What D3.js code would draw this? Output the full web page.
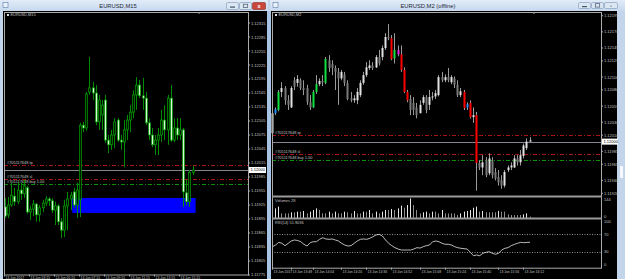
<!DOCTYPE html>
<html><head><meta charset="utf-8">
<script src="https://cdn.jsdelivr.net/npm/d3@7"></script>
<style>body{margin:0;background:#c3d5ea;overflow:hidden}svg{display:block}text{font-family:"Liberation Sans",Arial,sans-serif}</style>
</head><body><svg id="c" width="625" height="279"></svg>
<script>
// ---------------- LEFT CHART DATA (EURUSD,M15) ----------------
const leftOpen =[1.11921,1.11904,1.11925,1.11944,1.11932,1.11957,1.11949,1.11962,1.11910,1.11916,1.11927,1.11904,1.11919,1.11929,1.11938,1.11934,1.11914,1.11923,1.11889,1.11871,1.11923,1.11938,1.11953,1.11925,1.11936,1.12096,1.12090,1.12167,1.12176,1.12165,1.12103,1.12118,1.12150,1.12064,1.12054,1.12075,1.12107,1.12064,1.12060,1.12086,1.12107,1.12124,1.12161,1.12182,1.12159,1.12154,1.12101,1.12075,1.12054,1.12064,1.12075,1.12107,1.12086,1.12154,1.12064,1.12090,1.12075,1.12086,1.11951,1.11932,1.11995];
const leftHigh =[1.11940,1.11942,1.11973,1.11962,1.11973,1.11973,1.11979,1.11966,1.11923,1.11936,1.11929,1.11925,1.11936,1.11944,1.11942,1.11940,1.11932,1.11927,1.11897,1.11936,1.11953,1.11953,1.11962,1.11973,1.12101,1.12103,1.12167,1.12242,1.12189,1.12182,1.12161,1.12150,1.12161,1.12075,1.12086,1.12111,1.12111,1.12075,1.12107,1.12118,1.12139,1.12171,1.12199,1.12193,1.12197,1.12167,1.12111,1.12090,1.12075,1.12090,1.12129,1.12139,1.12161,1.12182,1.12111,1.12111,1.12111,1.12090,1.11979,1.12000,1.12009];
const leftLow  =[1.11897,1.11897,1.11921,1.11923,1.11927,1.11936,1.11940,1.11906,1.11893,1.11901,1.11889,1.11889,1.11910,1.11923,1.11923,1.11908,1.11882,1.11882,1.11854,1.11856,1.11871,1.11914,1.11919,1.11897,1.11899,1.12081,1.12084,1.12161,1.12150,1.12096,1.12086,1.12086,1.12058,1.12036,1.12043,1.12047,1.12060,1.12043,1.12006,1.12064,1.12081,1.12111,1.12129,1.12154,1.12129,1.12096,1.12064,1.12049,1.12032,1.12032,1.12060,1.12064,1.12054,1.12060,1.12060,1.12064,1.12064,1.11921,1.11925,1.11921,1.11989];
const leftClose=[1.11901,1.11925,1.11946,1.11932,1.11957,1.11949,1.11966,1.11910,1.11916,1.11927,1.11904,1.11919,1.11929,1.11938,1.11934,1.11914,1.11923,1.11889,1.11871,1.11923,1.11938,1.11946,1.11925,1.11957,1.12096,1.12090,1.12163,1.12176,1.12165,1.12103,1.12150,1.12139,1.12064,1.12054,1.12075,1.12103,1.12064,1.12060,1.12086,1.12107,1.12124,1.12161,1.12182,1.12159,1.12154,1.12101,1.12075,1.12054,1.12064,1.12075,1.12107,1.12086,1.12154,1.12064,1.12090,1.12075,1.12086,1.11953,1.11932,1.11995,1.12000];
const leftTicks=[1.12315,1.12285,1.12255,1.12225,1.12195,1.12165,1.12135,1.12105,1.12075,1.12045,1.12015,1.11985,1.11955,1.11925,1.11895,1.11865,1.11835,1.11805,1.11775];
const leftTimeLabels=["13 Jun 2017","13 Jun 03:15","13 Jun 05:15","13 Jun 07:15","13 Jun 09:15","13 Jun 11:15","13 Jun 13:15","13 Jun 15:15"];
const leftTimeIdx=[0,8,16,24,32,40,48,56];
const leftZone={from:21.5,to:61,top:1.11940,bottom:1.11908};

// ---------------- RIGHT CHART DATA (EURUSD,M2 offline) ----------------
const rightOpen =[1.12013,1.12044,1.12049,1.12077,1.12083,1.12064,1.12053,1.12095,1.12091,1.12095,1.12083,1.12083,1.12061,1.12053,1.12077,1.12089,1.12094,1.12091,1.12126,1.12120,1.12114,1.12108,1.12098,1.12104,1.12091,1.12067,1.12064,1.12064,1.12072,1.12091,1.12103,1.12114,1.12118,1.12115,1.12131,1.12131,1.12145,1.12162,1.12160,1.12129,1.12142,1.12135,1.12111,1.12077,1.12066,1.12060,1.12053,1.12044,1.12060,1.12069,1.12057,1.12069,1.12070,1.12072,1.12100,1.12095,1.12100,1.12092,1.12098,1.12088,1.12072,1.12077,1.12053,1.12060,1.12038,1.12041,1.11967,1.11960,1.11971,1.11951,1.11971,1.11953,1.11945,1.11940,1.11932,1.11956,1.11960,1.11960,1.11974,1.11968,1.11978,1.11990,1.12000];
const rightHigh =[1.12046,1.12053,1.12080,1.12092,1.12086,1.12072,1.12086,1.12100,1.12103,1.12098,1.12095,1.12088,1.12072,1.12080,1.12103,1.12098,1.12103,1.12131,1.12134,1.12126,1.12118,1.12114,1.12111,1.12108,1.12095,1.12077,1.12072,1.12083,1.12095,1.12108,1.12123,1.12126,1.12123,1.12134,1.12142,1.12149,1.12168,1.12182,1.12165,1.12168,1.12149,1.12149,1.12115,1.12080,1.12072,1.12069,1.12060,1.12064,1.12072,1.12072,1.12080,1.12077,1.12080,1.12103,1.12108,1.12104,1.12114,1.12103,1.12101,1.12095,1.12083,1.12080,1.12061,1.12064,1.12053,1.12046,1.11971,1.11979,1.11976,1.11982,1.11976,1.11959,1.11956,1.11948,1.11956,1.11963,1.11968,1.11979,1.11979,1.11987,1.11997,1.12005,1.12007];
const rightLow  =[1.12010,1.12041,1.12047,1.12069,1.12057,1.12049,1.12052,1.12080,1.12085,1.12080,1.12072,1.12057,1.12049,1.12052,1.12074,1.12086,1.12086,1.12089,1.12108,1.12103,1.12080,1.12057,1.12095,1.12086,1.12064,1.12061,1.12060,1.12058,1.12069,1.12088,1.12100,1.12111,1.12111,1.12114,1.12118,1.12126,1.12142,1.12157,1.12126,1.12121,1.12132,1.12108,1.12075,1.12061,1.12041,1.12041,1.12036,1.12044,1.12057,1.12044,1.12049,1.12064,1.12066,1.12070,1.12092,1.12092,1.12092,1.12089,1.12083,1.12069,1.12069,1.12049,1.12049,1.12036,1.12029,1.11924,1.11956,1.11948,1.11945,1.11948,1.11943,1.11940,1.11932,1.11927,1.11929,1.11953,1.11956,1.11959,1.11963,1.11963,1.11974,1.11987,1.12000];
const rightClose=[1.12044,1.12050,1.12077,1.12083,1.12064,1.12057,1.12083,1.12085,1.12097,1.12083,1.12080,1.12061,1.12053,1.12077,1.12089,1.12094,1.12092,1.12128,1.12114,1.12114,1.12108,1.12098,1.12108,1.12091,1.12066,1.12064,1.12067,1.12077,1.12091,1.12103,1.12115,1.12118,1.12114,1.12131,1.12121,1.12145,1.12162,1.12160,1.12128,1.12142,1.12135,1.12111,1.12077,1.12064,1.12049,1.12049,1.12041,1.12057,1.12069,1.12049,1.12069,1.12070,1.12075,1.12100,1.12095,1.12100,1.12095,1.12100,1.12088,1.12072,1.12078,1.12052,1.12058,1.12038,1.12041,1.11967,1.11960,1.11968,1.11948,1.11974,1.11948,1.11943,1.11937,1.11932,1.11953,1.11960,1.11963,1.11974,1.11968,1.11979,1.11994,1.12000,1.12002];
// signal colouring of the custom candles: 0 none, 1 up(lime), 2 down(red), 3 blue, 4 magenta
const rightSignal=[0,3,1,0,0,0,0,0,0,0,0,0,0,1,1,0,0,1,0,0,0,0,0,0,0,0,0,0,0,0,0,0,0,0,0,0,0,0,2,1,4,2,2,2,0,0,0,0,0,0,0,0,0,0,0,0,0,0,0,0,0,2,3,2,0,2,0,0,0,0,0,0,0,0,0,0,0,0,0,0,0,0,0];
const rightVolume=[52,71,84,34,34,34,42,42,47,47,52,34,47,59,71,59,34,34,47,34,47,34,34,47,42,34,52,34,34,47,47,59,34,47,34,47,59,59,66,59,71,91,76,96,144,96,59,34,42,47,34,47,47,34,59,34,34,34,34,22,34,47,52,59,76,84,47,52,42,42,42,42,52,47,47,27,22,22,22,22,27,34,10];
const rightRSI=[41.7,45.6,51.8,49.5,44,49.5,54.9,57.2,56,53.2,47.2,43.3,50.9,53.2,53.2,58.8,62.5,59.5,58.8,59.5,57.2,54.9,49.5,45.6,43.3,44,49.5,54.9,58.8,59.5,58.8,61.1,64.8,68.8,70.4,66.4,57.2,49.5,44,39.4,36.3,34,34,34,34,36.3,39.4,38.5,41.7,44,45.6,53.2,54.9,53.2,49.5,47.2,47.2,45.6,41.7,39.4,38,37,36.3,28.7,20.8,22.5,20.8,26.4,28.7,30.1,26.4,24.1,26.4,34,38,39.4,44,47,49.5,51.8,51,51.5,52];
const rightTicks=[1.12195,1.12170,1.12145,1.12125,1.12100,1.12080,1.12055,1.12030,1.12010,1.11985,1.11965,1.11940,1.11920];
const rightTimeLabels=["13 Jun 2017","13 Jun 13:48","13 Jun 14:04","13 Jun 14:20","13 Jun 14:36","13 Jun 14:52","13 Jun 15:08","13 Jun 15:24","13 Jun 15:40","13 Jun 15:56","13 Jun 16:12"];
const rightTimeIdx=[0,6,13,22,30,38,47,55,63,72,80];
const volTicks=[144,0];
const rsiTicks=[100,70,30,0];
const rsiLevels=[70,30];

// trade lines (same on both charts)
const orderLabels=["#705117648 tp","#705117648 sl","#705117648 buy 1.00"];
const orderPrices=[1.12011,1.11981,1.11971];
const orderKinds=["tp","sl","buy"];
const bidPrice=1.12000;

// ---------------- DRAWING ----------------
const svg=d3.select("#c");
const fmt=d3.format(".5f");
const TXT="#c4c4c4";

svg.append("rect").attr("x",0).attr("y",0).attr("width",625).attr("height",279).attr("fill","#c3d5ea");
const defs=svg.append("defs");
function titleBar(x0,x1,title,cx,buttons,close){
  const g=svg.append("g");
  const grad=defs.append("linearGradient").attr("id","tb"+x0).attr("x1",0).attr("y1",0).attr("x2",0).attr("y2",1);
  grad.append("stop").attr("offset",0).attr("stop-color","#e2ecf8");
  grad.append("stop").attr("offset",1).attr("stop-color","#c6d8ee");
  g.append("rect").attr("x",x0).attr("y",0).attr("width",x1-x0).attr("height",11).attr("fill","url(#tb"+x0+")");
  g.append("text").attr("x",cx).attr("y",8).attr("text-anchor","middle").attr("font-size",5.8).attr("fill","#1b2636").text(title);
  g.append("rect").attr("x",x0+3).attr("y",2.5).attr("width",5).attr("height",5).attr("fill","#e9f1fa").attr("stroke","#5b7ea6").attr("stroke-width",0.6);
  buttons.forEach((b,k)=>{
    const red=close&&k===2;
    g.append("rect").attr("x",b[0]+0.5).attr("y",b[2]+0.5).attr("width",b[1]-b[0]).attr("height",b[3]-b[2]).attr("rx",1.2)
      .attr("fill",red?"#c9473b":"#dbe6f3").attr("stroke",red?"#8a2b22":"#7d95b3").attr("stroke-width",0.6);
    const mx=(b[0]+b[1])/2+0.5,my=(b[2]+b[3])/2+0.5;
    if(k===0) g.append("rect").attr("x",mx-2.5).attr("y",my+0.5).attr("width",5).attr("height",1.2).attr("fill","#44556b");
    if(k===1) g.append("rect").attr("x",mx-2.2).attr("y",my-1.8).attr("width",4.4).attr("height",3.4).attr("fill","none").attr("stroke","#44556b").attr("stroke-width",0.7);
    if(k===2) g.append("text").attr("x",mx).attr("y",my+2).attr("text-anchor","middle").attr("font-size",5.5).attr("font-weight","bold").attr("fill",red?"#fff":"#44556b").text(red?"x":"▫");
  });
}
titleBar(0,268,"EURUSD,M15",118,[[226,238,2,9],[239,251,2,9],[252,265,2,9]],true);
titleBar(270,625,"EURUSD,M2 (offline)",428,[[578,590,2,8],[591,603,2,8],[604,617,2,8]],false);

function candles(g,n,x,y,o,h,l,c,style){
  for(let i=0;i<n;i++){
    const xi=Math.round(x(i));
    const s=style(i,c[i]>=o[i]);
    g.append("line").attr("x1",xi+0.5).attr("x2",xi+0.5).attr("y1",y(h[i])).attr("y2",y(l[i])).attr("stroke",s.wick).attr("stroke-width",1);
    const top=Math.min(y(o[i]),y(c[i])),bot=Math.max(y(o[i]),y(c[i]));
    g.append("rect").attr("x",xi-0.5).attr("y",top).attr("width",2).attr("height",Math.max(1,bot-top))
      .attr("fill",s.fill).attr("stroke",s.stroke||"none").attr("stroke-width",s.stroke?0.7:0);
  }
}
function dashLine(g,x0,x1,yy,color){
  g.append("line").attr("x1",x0).attr("x2",x1).attr("y1",yy+0.5).attr("y2",yy+0.5).attr("stroke",color).attr("stroke-width",1).attr("stroke-dasharray","4,2,1,2");
}
const lineColor={tp:"#a81515",sl:"#a81515",buy:"#0d8f0d"};

// ===== LEFT CHART =====
{
  const L={x0:4,x1:248,y0:12,y1:274.5};
  const g=svg.append("g");
  g.append("rect").attr("x",3).attr("y",11).attr("width",264).attr("height",268).attr("fill","#000");
  const y=d3.scaleLinear().domain([1.11776,1.12225]).range([L.y1,65]);
  const x=d3.scaleLinear().domain([0,leftOpen.length-1]).range([5,192.5]);
  g.append("rect").attr("x",x(leftZone.from)).attr("y",y(leftZone.top)).attr("width",x(leftZone.to)-x(leftZone.from)).attr("height",y(leftZone.bottom)-y(leftZone.top)).attr("fill","#0000ff");
  orderPrices.forEach((p,k)=>{
    dashLine(g,L.x0,L.x1,Math.round(y(p)),lineColor[orderKinds[k]]);
    g.append("text").attr("x",7).attr("y",Math.round(y(p))-0.6).attr("font-size",3.9).attr("fill",TXT).text(orderLabels[k]);
  });
  g.append("line").attr("x1",L.x0).attr("x2",L.x1).attr("y1",Math.round(y(bidPrice))+0.5).attr("y2",Math.round(y(bidPrice))+0.5).attr("stroke","#85858f");
  candles(g,leftOpen.length,x,y,leftOpen,leftHigh,leftLow,leftClose,(i,up)=>up?{wick:"#008c00",fill:"#001a00",stroke:"#00a000"}:{wick:"#008c00",fill:"#d4f7d4",stroke:"#009a00"});
  g.append("rect").attr("x",L.x0+0.5).attr("y",L.y0+0.5).attr("width",L.x1-L.x0).attr("height",L.y1-L.y0).attr("fill","none").attr("stroke","#aaaaaa").attr("stroke-width",1);
  const ax=g.append("g");
  leftTicks.forEach(t=>{
    const yy=y(t);
    ax.append("line").attr("x1",L.x1).attr("x2",L.x1+2).attr("y1",yy).attr("y2",yy).attr("stroke","#aaaaaa");
    ax.append("text").attr("x",L.x1+3).attr("y",yy+1.5).attr("font-size",4).attr("fill",TXT).text(fmt(t));
  });
  const by=y(bidPrice);
  ax.append("rect").attr("x",L.x1+1).attr("y",by-3).attr("width",17).attr("height",6).attr("fill","#fff");
  ax.append("text").attr("x",L.x1+2.5).attr("y",by+1.5).attr("font-size",4).attr("fill","#000").text(fmt(bidPrice));
  leftTimeIdx.forEach((ix,k)=>{
    const xx=Math.round(x(ix))-1;
    ax.append("line").attr("x1",xx+0.5).attr("x2",xx+0.5).attr("y1",L.y1).attr("y2",L.y1+2).attr("stroke","#aaaaaa");
    ax.append("text").attr("x",xx+1.5).attr("y",278.6).attr("font-size",3.4).attr("fill",TXT).text(leftTimeLabels[k]);
  });
  g.append("rect").attr("x",7).attr("y",14).attr("width",2).attr("height",2).attr("fill","#ddd");
  g.append("text").attr("x",10.5).attr("y",16.4).attr("font-size",3.9).attr("fill",TXT).text("EURUSD,M15");
  g.append("path").attr("d","M197,12 L201,12 L199,14 Z").attr("fill","#aaaaaa");
}

// ===== RIGHT CHART =====
{
  const R={x0:272,x1:601,y0:12,main1:196.5,vol1:218.5,y1:267.7};
  const g=svg.append("g");
  g.append("rect").attr("x",271).attr("y",11).attr("width",346).attr("height",268).attr("fill","#000");
  g.append("rect").attr("x",267).attr("y",11).attr("width",4).attr("height",268).attr("fill","#a7c4e4");
  g.append("rect").attr("x",617).attr("y",11).attr("width",8).attr("height",268).attr("fill","#c3d5ea");
  g.append("rect").attr("x",620).attr("y",166).attr("width",3).attr("height",12).attr("fill","#f4f8fc");
  const y=d3.scaleLinear().domain([1.11920,1.12195]).range([193.3,15.7]);
  const x=d3.scaleLinear().domain([0,rightOpen.length-1]).range([272,529.5]);
  const vy=d3.scaleLinear().domain([0,144]).range([R.vol1-0.5,198.5]);
  const ry=d3.scaleLinear().domain([0,100]).range([264.7,221.5]);
  orderPrices.forEach((p,k)=>{
    dashLine(g,R.x0,R.x1,Math.round(y(p)),lineColor[orderKinds[k]]);
    g.append("text").attr("x",275).attr("y",Math.round(y(p))-0.6).attr("font-size",3.9).attr("fill",TXT).text(orderLabels[k]);
  });
  g.append("line").attr("x1",R.x0).attr("x2",R.x1).attr("y1",Math.round(y(bidPrice))+0.5).attr("y2",Math.round(y(bidPrice))+0.5).attr("stroke","#85858f");
  const sigCol=["","#10e040","#ff0000","#1e8fff","#e020e0"];
  candles(g,rightOpen.length,x,y,rightOpen,rightHigh,rightLow,rightClose,(i,up)=>{
    const s=rightSignal[i];
    if(s) return {wick:"#9a9a9a",fill:sigCol[s]};
    return up?{wick:"#9a9a9a",fill:"#e2e2e2"}:{wick:"#9a9a9a",fill:"#7a7a7a"};
  });
  rightVolume.forEach((v,i)=>{
    const xi=Math.round(x(i))+0.5;
    g.append("line").attr("x1",xi).attr("x2",xi).attr("y1",vy(0)).attr("y2",vy(v)).attr("stroke",i>0&&v>rightVolume[i-1]?"#e6e6e6":"#8c8c8c");
  });
  rsiLevels.forEach(v=>g.append("line").attr("x1",R.x0).attr("x2",R.x1).attr("y1",Math.round(ry(v))+0.5).attr("y2",Math.round(ry(v))+0.5).attr("stroke","#909090").attr("stroke-dasharray","1,1.5"));
  g.append("path").datum(rightRSI).attr("d",d3.line().x((d,i)=>x(i)+0.5).y(d=>ry(d))).attr("fill","none").attr("stroke","#e8e8e8").attr("stroke-width",0.8);
  g.append("rect").attr("x",R.x0+0.5).attr("y",R.y0+0.5).attr("width",R.x1-R.x0).attr("height",R.y1-R.y0).attr("fill","none").attr("stroke","#aaaaaa");
  [R.main1,R.vol1].forEach(yy=>g.append("rect").attr("x",R.x0).attr("y",yy-1).attr("width",R.x1-R.x0+1).attr("height",2).attr("fill","#9a9a9a"));
  const ax=g.append("g");
  rightTicks.forEach(t=>{
    const yy=y(t);
    ax.append("line").attr("x1",R.x1).attr("x2",R.x1+2).attr("y1",yy).attr("y2",yy).attr("stroke","#aaaaaa");
    ax.append("text").attr("x",R.x1+3).attr("y",yy+1.5).attr("font-size",4).attr("fill",TXT).text(fmt(t));
  });
  const by=y(bidPrice);
  ax.append("rect").attr("x",R.x1+1).attr("y",by-3).attr("width",16).attr("height",6).attr("fill","#fff");
  ax.append("text").attr("x",R.x1+2.5).attr("y",by+1.5).attr("font-size",4).attr("fill","#000").text(fmt(bidPrice));
  volTicks.forEach(t=>ax.append("text").attr("x",R.x1+3).attr("y",vy(t)+(t?2.5:-0.5)).attr("font-size",4).attr("fill",TXT).text(t));
  rsiTicks.forEach(t=>ax.append("text").attr("x",R.x1+3).attr("y",ry(t)+1.5).attr("font-size",4).attr("fill",TXT).text(t));
  rightTimeIdx.forEach((ix,k)=>{
    const xx=Math.round(x(ix));
    ax.append("line").attr("x1",xx+0.5).attr("x2",xx+0.5).attr("y1",R.y1).attr("y2",R.y1+2).attr("stroke","#aaaaaa");
    ax.append("text").attr("x",xx+1.5).attr("y",R.y1+5).attr("font-size",3.4).attr("fill",TXT).text(rightTimeLabels[k]);
  });
  g.append("rect").attr("x",275).attr("y",14).attr("width",2).attr("height",2).attr("fill","#ddd");
  g.append("text").attr("x",278.5).attr("y",16.4).attr("font-size",3.9).attr("fill",TXT).text("EURUSD,M2");
  g.append("text").attr("x",275).attr("y",202.3).attr("font-size",3.9).attr("fill",TXT).text("Volumes 28");
  g.append("text").attr("x",275).attr("y",224.3).attr("font-size",3.9).attr("fill",TXT).text("RSI(14) 51.9036");
  g.append("path").attr("d","M532,12 L536,12 L534,14 Z").attr("fill","#aaaaaa");
}
</script>
</body></html>
